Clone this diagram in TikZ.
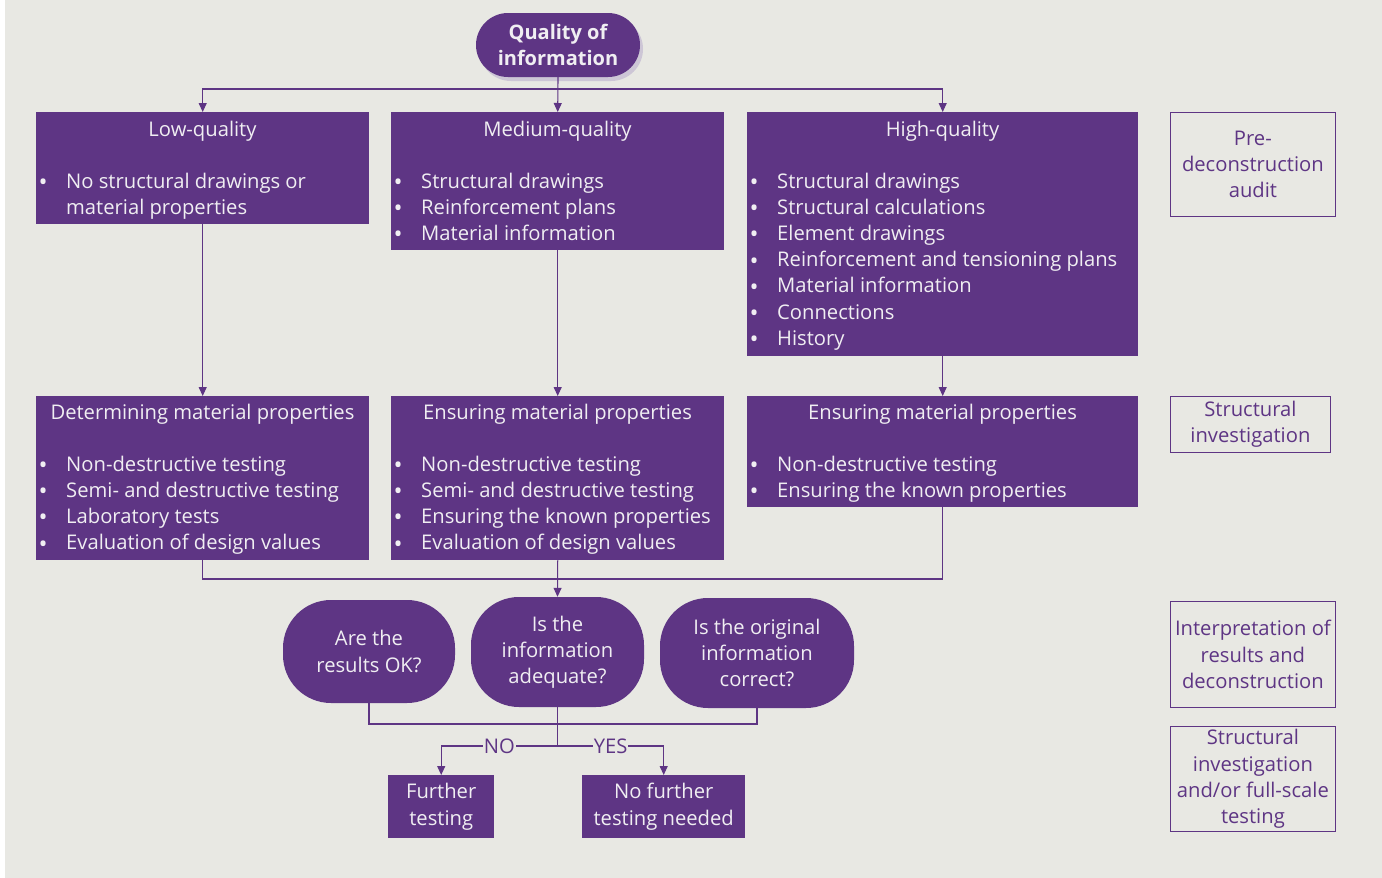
\documentclass[tikz,border=0pt]{standalone}
\usepackage{fontspec}
\setmainfont{Open Sans}
\usetikzlibrary{arrows.meta,shadows}
\definecolor{pur}{RGB}{94,53,132}
\definecolor{bg}{RGB}{232,232,227}
\definecolor{ltxt}{RGB}{240,238,242}
\definecolor{shd}{RGB}{205,198,214}
\newcommand\fsz{\fontsize{20.2}{26.2}\selectfont}
\newcommand\bl{\makebox[30pt][l]{\hspace{2.5pt}\smash{\raisebox{-2.5pt}{\fontsize{24}{26}\selectfont\textbullet}}}}
\tikzset{
 box/.style={fill=pur, draw=none, anchor=north west, inner sep=0pt},
 ttl/.style={text=ltxt, font=\fsz, anchor=base, inner sep=0pt},
 lst/.style={text=ltxt, font=\fsz, anchor=base west, inner sep=0pt},
 conn/.style={draw=pur, line width=1.1pt},
 arr/.style={conn, -{Triangle[width=8pt,length=9pt]}},
 ques/.style={fill=pur, rounded corners=48pt, text=ltxt, font=\fsz, align=center, inner sep=0pt},
 side/.style={draw=pur, line width=0.8pt, text=pur, font=\fsz, align=center, inner sep=0pt, anchor=north west},
 lbl/.style={fill=bg, text=pur, font=\fsz, inner sep=1pt},
 endbox/.style={fill=pur, text=ltxt, font=\fsz, align=center, inner sep=0pt, anchor=north west},
}
\begin{document}
\begin{tikzpicture}[x=1pt,y=-1pt]
\useasboundingbox (0,0) rectangle (1382,878);
\fill[white] (0,0) rectangle (1382,878);
\fill[bg] (5,0) rectangle (1382,878);
% top
\node[fill=pur, rounded corners=32pt, minimum width=164pt, minimum height=64pt, text=ltxt,
  font=\bfseries\fontsize{20}{26}\selectfont, align=center, inner sep=0pt,
  drop shadow={shadow xshift=3pt, shadow yshift=-4pt, fill=shd, opacity=1}] (top) at (558,45) {Quality of\\information};
% row 1 boxes
\node[box, minimum width=333pt, minimum height=112pt] (low) at (36,112) {};
\node[box, minimum width=333pt, minimum height=138pt] (med) at (391,112) {};
\node[box, minimum width=391pt, minimum height=244pt] (high) at (747,112) {};
\node[ttl] (lowT) at (202.5,136) {Low-quality};
\node[ttl] (medT) at (557.5,136) {Medium-quality};
\node[ttl] (highT) at (942.5,136) {High-quality};
\node[lst] (lowL) at (36,188) {\begin{tabular}[t]{@{}l@{}l@{}}\bl & No structural drawings or\\ & material properties\end{tabular}};
\node[lst] (medL) at (391,188) {\begin{tabular}[t]{@{}l@{}l@{}}\bl & Structural drawings\\ \bl & Reinforcement plans\\ \bl & Material information\end{tabular}};
\node[lst] (highL) at (747,188) {\begin{tabular}[t]{@{}l@{}l@{}}\bl & Structural drawings\\ \bl & Structural calculations\\ \bl & Element drawings\\ \bl & Reinforcement and tensioning plans\\ \bl & Material information\\ \bl & Connections\\ \bl & History\end{tabular}};
% row 2 boxes
\node[box, minimum width=333pt, minimum height=164pt] (low2) at (36,396) {};
\node[box, minimum width=333pt, minimum height=164pt] (med2) at (391,396) {};
\node[box, minimum width=391pt, minimum height=111pt] (high2) at (747,396) {};
\node[ttl] (low2T) at (202.5,419) {Determining material properties};
\node[ttl] (med2T) at (557.5,419) {Ensuring material properties};
\node[ttl] (high2T) at (942.5,419) {Ensuring material properties};
\node[lst] (low2L) at (36,471) {\begin{tabular}[t]{@{}l@{}l@{}}\bl & Non-destructive testing\\ \bl & Semi- and destructive testing\\ \bl & Laboratory tests\\ \bl & Evaluation of design values\end{tabular}};
\node[lst] (med2L) at (391,471) {\begin{tabular}[t]{@{}l@{}l@{}}\bl & Non-destructive testing\\ \bl & Semi- and destructive testing\\ \bl & Ensuring the known properties\\ \bl & Evaluation of design values\end{tabular}};
\node[lst] (high2L) at (747,471) {\begin{tabular}[t]{@{}l@{}l@{}}\bl & Non-destructive testing\\ \bl & Ensuring the known properties\end{tabular}};
% questions
\node[ques, minimum width=172pt, minimum height=103pt] (q1) at (369,651.5) {Are the\\results OK?};
\node[ques, minimum width=173pt, minimum height=110pt] (q2) at (557.5,652) {Is the\\information\\adequate?};
\node[ques, minimum width=194pt, minimum height=110pt] (q3) at (757,653) {Is the original\\information\\correct?};
% end boxes
\node[endbox, minimum width=106pt, minimum height=63pt] (ft) at (388,775) {Further\\testing};
\node[endbox, minimum width=163pt, minimum height=63pt] (nf) at (582,775) {No further\\testing needed};
% side boxes
\node[side, minimum width=165pt, minimum height=104pt] (s1) at (1170,112) {Pre-\\deconstruction\\audit};
\node[side, minimum width=160pt, minimum height=56pt] (s2) at (1170,396) {Structural\\investigation};
\node[side, minimum width=165pt, minimum height=106pt] (s3) at (1170,601) {Interpretation of\\results and\\deconstruction};
\node[side, minimum width=165pt, minimum height=105pt] (s4) at (1170,726) {Structural\\investigation\\and/or full-scale\\testing};
% connectors
\coordinate (split) at (557.5,89);
\draw[arr] (top.south) -- (med.north);
\draw[arr] (split) -| (low.north);
\draw[arr] (split) -| (high.north);
\draw[arr] (low.south) -- (low2.north);
\draw[arr] (med.south) -- (med2.north);
\draw[arr] (high.south) -- (high2.north);
\coordinate (merge) at (557.5,579);
\draw[conn] (low2.south) |- (merge) -| (high2.south);
\draw[arr] (med2.south) -- (q2.north);
\coordinate (join) at (557.5,724);
\draw[conn] (q1.south) |- (join) -| (q3.south);
\coordinate (dec) at (557.5,746);
\draw[conn] (q2.south) -- (dec);
\draw[arr] (dec) -| node[lbl, pos=0.25] (no) {NO} (ft.north);
\draw[arr] (dec) -| node[lbl, pos=0.25] (yes) {YES} (nf.north);
\end{tikzpicture}
\end{document}
